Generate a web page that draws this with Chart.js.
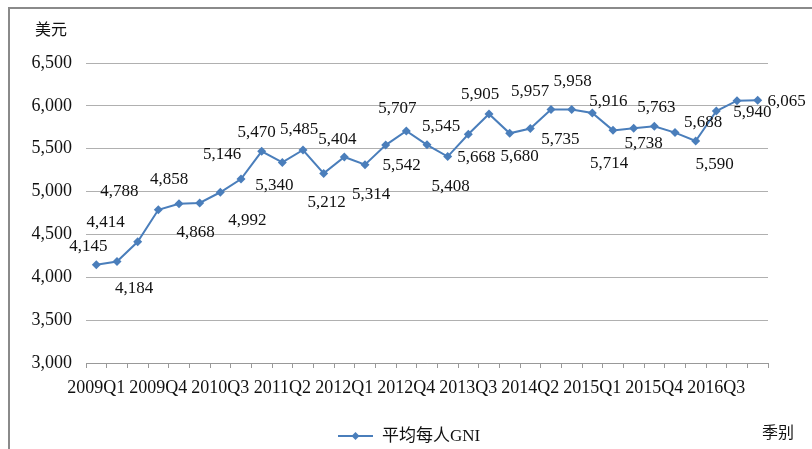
<!DOCTYPE html>
<html lang="zh">
  <head>
    <meta charset="UTF-8" />
    <title>平均每人GNI</title>
    <script src="https://cdn.jsdelivr.net/npm/chart.js"></script>
    <style>
      html, body { margin: 0; padding: 0; background: #fff; }
      #wrap { width: 812px; height: 449px; }
    </style>
  </head>
  <body>
    <div id="wrap"><canvas id="myChart" width="812" height="449"></canvas></div>
    <script>
      // 季别
      var quarters = [
        "2009Q1", "2009Q2", "2009Q3", "2009Q4",
        "2010Q1", "2010Q2", "2010Q3", "2010Q4",
        "2011Q1", "2011Q2", "2011Q3", "2011Q4",
        "2012Q1", "2012Q2", "2012Q3", "2012Q4",
        "2013Q1", "2013Q2", "2013Q3", "2013Q4",
        "2014Q1", "2014Q2", "2014Q3", "2014Q4",
        "2015Q1", "2015Q2", "2015Q3", "2015Q4",
        "2016Q1", "2016Q2", "2016Q3", "2016Q4",
        "2017Q1"
      ]
      // 平均每人GNI (美元)
      var gni = [
        4145, 4184, 4414, 4788,
        4858, 4868, 4992, 5146,
        5470, 5340, 5485, 5212,
        5404, 5314, 5542, 5707,
        5545, 5408, 5668, 5905,
        5680, 5735, 5957, 5958,
        5916, 5714, 5738, 5763,
        5688, 5590, 5940, 6060,
        6065
      ]
      var yTicks = [3000, 3500, 4000, 4500, 5000, 5500, 6000, 6500]

      // where each value label sits relative to its point (null = no label)
      var labelOffsets = [
        [-8, -18], [17, 27], [-32, -19], [-39, -18],
        [-10, -24], [-4, 30], [27, 28], [-19, -25],
        [-5, -19], [-8, 23], [-4, -20], [3, 29],
        [-7, -17], [6, 30], [16, 20], [-9, -22],
        [14, -18], [3, 30], [8, 23], [-9, -19],
        [10, 23], [30, 11], [-21, -18], [1, -28],
        [16, -12], [-4, 33], [10, 15], [2, -19],
        [28, -10], [19, 24], [36, 2], null,
        [29, 1]
      ]

      var blue = "#4A7EBB"
      var serif = "'Liberation Serif', 'Times New Roman', 'Noto Sans CJK SC', serif"
      var cjk = "'Noto Sans CJK SC', 'Liberation Serif', serif"

      var extras = {
        id: "extras",
        afterDatasetsDraw: function (chart) {
          var ctx = chart.ctx
          var meta = chart.getDatasetMeta(0)
          ctx.save()
          ctx.font = "17px " + serif
          ctx.fillStyle = "#111"
          ctx.textAlign = "center"
          ctx.textBaseline = "middle"
          meta.data.forEach(function (pt, i) {
            var off = labelOffsets[i]
            if (!off) return
            ctx.fillText(gni[i].toLocaleString("en-US"), pt.x + off[0], pt.y + off[1])
          })
          ctx.restore()
        },
        afterDraw: function (chart) {
          var ctx = chart.ctx
          ctx.save()
          // frame
          ctx.strokeStyle = "#8a8a8a"
          ctx.lineWidth = 2
          ctx.beginPath()
          ctx.moveTo(9, 449)
          ctx.lineTo(9, 8)
          ctx.lineTo(812, 8)
          ctx.stroke()

          // unit and axis titles
          ctx.fillStyle = "#111"
          ctx.textBaseline = "middle"
          ctx.font = "16px " + cjk
          ctx.textAlign = "left"
          ctx.fillText("美元", 35, 29)
          ctx.fillText("季别", 762, 432)

          // legend
          ctx.strokeStyle = blue
          ctx.lineWidth = 2
          ctx.beginPath()
          ctx.moveTo(338, 436)
          ctx.lineTo(373, 436)
          ctx.stroke()
          ctx.fillStyle = blue
          ctx.beginPath()
          ctx.moveTo(355.5, 436 - 4)
          ctx.lineTo(359.5, 436)
          ctx.lineTo(355.5, 436 + 4)
          ctx.lineTo(351.5, 436)
          ctx.closePath()
          ctx.fill()
          ctx.fillStyle = "#111"
          ctx.font = "17px " + serif
          ctx.fillText("平均每人GNI", 382, 437)
          ctx.restore()
        },
      }

      var ctx = document.getElementById("myChart").getContext("2d")
      var myChart = new Chart(ctx, {
        type: "line",
        data: {
          labels: quarters,
          datasets: [
            {
              label: "平均每人GNI",
              data: gni,
              borderColor: blue,
              backgroundColor: blue,
              borderWidth: 2,
              pointStyle: "rectRot",
              pointRadius: 4.5,
              pointBorderWidth: 0,
              tension: 0,
            },
          ],
        },
        options: {
          responsive: false,
          animation: false,
          devicePixelRatio: 1,
          layout: { padding: { top: 63, right: 44, left: 0, bottom: 0 } },
          plugins: {
            legend: { display: false },
            tooltip: { enabled: false },
          },
          scales: {
            x: {
              offset: true,
              grid: {
                offset: true,
                drawOnChartArea: false,
                tickLength: 5,
                color: "#999",
              },
              border: { display: true, color: "#999", width: 1 },
              ticks: {
                autoSkip: false,
                maxRotation: 0,
                padding: 9,
                color: "#111",
                font: { family: serif, size: 18 },
                callback: function (v, i) {
                  return i % 3 === 0 ? quarters[i] : ""
                },
              },
              afterFit: function (s) {
                s.height = 86
              },
            },
            y: {
              min: 3000,
              max: 6500,
              afterBuildTicks: function (s) {
                s.ticks = yTicks.map(function (v) { return { value: v } })
              },
              grid: { color: "#b0b0b0", drawTicks: false },
              border: { display: false },
              ticks: {
                padding: 14,
                color: "#111",
                font: { family: serif, size: 18 },
                callback: function (v) {
                  return v.toLocaleString("en-US")
                },
              },
              afterFit: function (s) {
                s.width = 86
              },
            },
          },
        },
        plugins: [extras],
      })
    </script>
  </body>
</html>
